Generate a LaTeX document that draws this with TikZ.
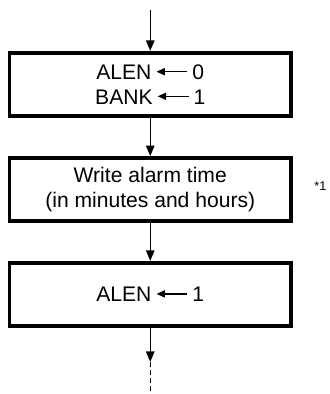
\documentclass[tikz,border=0pt]{standalone}
\usepackage{fontspec}
\setmainfont{Liberation Sans}
\usetikzlibrary{arrows.meta, positioning}

\newcommand{\getsarrow}{\hspace{3pt}\tikz[baseline=0pt]\draw[-{Triangle[length=6pt, width=5pt]}, line width=1.1pt] (22pt,5.5pt) -- (0pt,5.5pt);\hspace{3pt}}

\begin{document}
\begin{tikzpicture}[
    box/.style={
        rectangle,
        draw=black,
        line width=2.7pt,
        align=center,
        minimum width=7.04cm,
        minimum height=1.58cm,
        font=\fontsize{15}{17.5}\selectfont
    },
    note/.style={
        inner sep=0pt,
        font=\fontsize{9}{10}\selectfont
    },
    arrow/.style={
        -{Triangle[length=7.5pt, width=6pt]},
        line width=1pt,
        draw=black
    },
    dasharrow/.style={
        line width=1pt,
        draw=black,
        dash pattern=on 3.6pt off 2.1pt
    }
]
    \useasboundingbox (0,0) rectangle (8.225,9.85);

    % --- entry of the flow ---
    \coordinate (entry) at (3.756, 9.6);

    % --- steps ---
    \node[box] (reset) at (3.756, 7.74) {ALEN\getsarrow 0\\BANK\getsarrow 1};
    \node[box] (write) at (3.756, 5.11) {Write alarm time\\(in minutes and hours)};
    \node[box] (enable) at (3.756, 2.49) {ALEN\getsarrow 1};
    \node[note] (star) at (8.01, 5.2) {*1};

    % --- exit of the flow ---
    \coordinate (exit) at (3.756, 0.8);
    \coordinate (more) at (3.756, 0.05);

    \draw[arrow] (entry) -- (reset);
    \draw[arrow] (reset) -- (write);
    \draw[arrow] (write) -- (enable);
    \draw[arrow] (enable) -- (exit);
    \draw[dasharrow] (exit) -- (more);

\end{tikzpicture}
\end{document}
